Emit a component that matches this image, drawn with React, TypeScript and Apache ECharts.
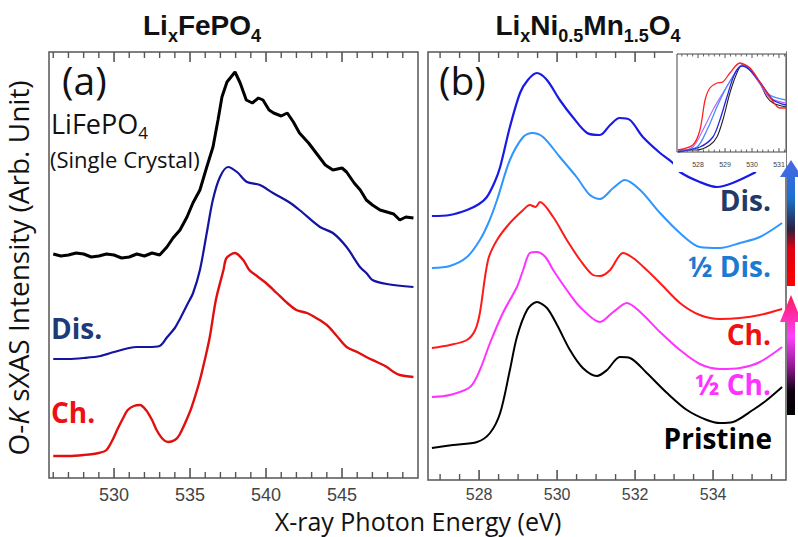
import React, { useEffect, useRef } from "react";
import * as echarts from "echarts";

// ---------- Panel (a): LixFePO4, O-K sXAS (energy eV, intensity arb.) ----------
const lfpSingleCrystal: [number, number][] = [
  [526.0, 224], [526.5, 222], [527.0, 223], [527.5, 225], [528.0, 224], [528.5, 221], [529.0, 222],
  [529.5, 224], [530.0, 223], [530.5, 220], [531.0, 221], [531.5, 224], [532.0, 222], [532.5, 225],
  [533.0, 223], [533.48, 231], [533.88, 240], [534.34, 248], [534.8, 261], [535.19, 275], [535.65, 288],
  [536.1, 311], [536.51, 331], [536.84, 358], [537.1, 381], [537.43, 396], [537.96, 406], [538.3, 395],
  [538.7, 378], [539.1, 375], [539.5, 380], [539.8, 378], [540.2, 368], [540.5, 365], [541.0, 362],
  [541.4, 365], [541.8, 356], [542.2, 345], [542.8, 335], [543.3, 325], [543.9, 313], [544.4, 308],
  [545.0, 310], [545.3, 306], [545.8, 295], [546.2, 288], [546.6, 278], [547.0, 273], [547.5, 268],
  [547.95, 266], [548.4, 264], [548.8, 258], [549.2, 261], [549.7, 260]
];
const lfpDischarged: [number, number][] = [
  [526.0, 119], [527.0, 119], [528.0, 120], [529.1, 122], [530.0, 126], [531.0, 130], [531.5, 131],
  [532.2, 131], [533.0, 132], [533.5, 141], [534.0, 150], [534.3, 158], [534.8, 173], [535.2, 185],
  [535.65, 208], [536.1, 245], [536.5, 278], [536.97, 301], [537.5, 311], [538.09, 306], [538.75, 296],
  [539.6, 293], [540.46, 285], [541.5, 276], [542.2, 268], [543.55, 251], [544.4, 245], [545.3, 231],
  [546.18, 211], [546.6, 205], [547.0, 198], [547.95, 194], [549.7, 191]
];
const lfpCharged: [number, number][] = [
  [526.0, 22], [527.0, 22], [528.0, 23], [529.0, 25], [529.5, 28], [529.9, 38], [530.2, 48],
  [530.6, 60], [530.9, 68], [531.3, 72], [531.7, 73], [532.1, 68], [532.5, 58], [532.8, 48],
  [533.2, 39], [533.55, 36], [534.0, 38], [534.3, 43], [534.96, 65], [535.3, 80], [535.65, 98],
  [536.0, 120], [536.3, 141], [536.7, 178], [537.2, 208], [537.4, 220], [537.95, 225], [538.5, 218],
  [538.9, 208], [539.4, 202], [540.0, 195], [540.7, 185], [541.4, 175], [542.0, 168], [542.7, 165],
  [543.3, 160], [544.0, 153], [544.6, 143], [545.3, 131], [546.0, 126], [546.6, 121], [547.3, 116],
  [547.95, 111], [548.4, 106], [548.8, 103], [549.7, 101]
];

// ---------- Panel (b): LixNi0.5Mn1.5O4 ----------
const lnmoDis: [number, number][] = [
  [526.79, 264], [527.25, 265], [527.69, 270], [528.0, 276], [528.2, 283], [528.4, 298], [528.54, 313],
  [528.79, 353], [529.05, 387], [529.25, 400], [529.48, 407], [529.74, 400], [530.07, 380], [530.4, 363],
  [530.77, 347], [531.1, 345], [531.36, 355], [531.6, 362], [531.87, 360], [532.2, 343], [532.64, 327],
  [532.97, 317], [533.15, 308], [533.66, 298], [534.1, 293], [534.5, 297], [535.1, 308]
];
const lnmoHalfDis: [number, number][] = [
  [526.79, 212], [527.25, 214], [527.69, 223], [528.02, 240], [528.25, 258], [528.46, 280], [528.79, 320],
  [529.13, 343], [529.36, 347], [529.64, 343], [530.07, 323], [530.5, 303], [530.84, 285], [531.1, 281],
  [531.44, 292], [531.74, 300], [532.13, 290], [532.64, 267], [533.15, 247], [533.66, 233], [534.18, 232],
  [534.69, 237], [535.2, 243], [535.77, 257]
];
const lnmoCh: [number, number][] = [
  [526.79, 132], [527.25, 135], [527.69, 140], [527.9, 150], [528.02, 167], [528.23, 220], [528.46, 240],
  [528.79, 257], [529.13, 270], [529.3, 275], [529.45, 273], [529.56, 278], [529.9, 263], [530.25, 240],
  [530.59, 220], [530.92, 205], [531.1, 204], [531.36, 210], [531.69, 227], [531.95, 222], [532.3, 210],
  [532.64, 197], [533.15, 177], [533.66, 165], [534.18, 161], [534.69, 162], [535.2, 165], [535.77, 171]
];
const lnmoHalfCh: [number, number][] = [
  [526.79, 83], [527.25, 85], [527.77, 93], [528.02, 110], [528.28, 137], [528.61, 167], [528.97, 193],
  [529.13, 210], [529.3, 227], [529.48, 228], [529.7, 223], [529.9, 210], [530.25, 190], [530.59, 173],
  [531.1, 158], [531.44, 168], [531.79, 177], [532.13, 168], [532.64, 148], [533.15, 130], [533.66, 116],
  [534.18, 111], [534.69, 112], [535.2, 118], [535.77, 133]
];
const lnmoPristine: [number, number][] = [
  [526.79, 32], [527.33, 35], [527.95, 38], [528.28, 47], [528.54, 67], [528.79, 110], [528.97, 143],
  [529.23, 170], [529.48, 178], [529.74, 172], [530.0, 155], [530.33, 130], [530.66, 112], [531.02, 104],
  [531.28, 110], [531.61, 123], [531.87, 122], [532.3, 107], [532.82, 87], [533.33, 70], [533.84, 60],
  [534.18, 57], [534.51, 58], [535.02, 70], [535.38, 80], [535.77, 93]
];

// ---------- Inset (pre-edge comparison) ----------
const insetPristine: [number, number][] = [
  [527.26, 2], [527.96, 2], [528.44, 7], [528.7, 15], [528.92, 32], [529.18, 59], [529.44, 79],
  [529.63, 87], [529.92, 82], [530.29, 69], [530.55, 55], [530.78, 49], [531.26, 45]
];
const insetCh: [number, number][] = [
  [527.26, 2], [527.81, 7], [528.07, 22], [528.26, 52], [528.44, 64], [528.7, 69], [528.92, 70],
  [529.18, 79], [529.55, 89], [529.92, 84], [530.29, 70], [530.66, 55], [531.03, 44], [531.26, 44]
];
const insetHalfCh: [number, number][] = [
  [527.26, 0], [527.81, 5], [528.18, 22], [528.55, 42], [528.92, 59], [529.29, 75], [529.63, 87],
  [529.92, 82], [530.29, 68], [530.66, 54], [531.26, 49]
];
const insetHalfDis: [number, number][] = [
  [527.26, 2], [527.96, 5], [528.33, 22], [528.7, 45], [529.0, 62], [529.37, 79], [529.63, 87],
  [529.92, 84], [530.29, 70], [530.66, 57], [531.26, 52]
];
const insetDis: [number, number][] = [
  [527.26, 0], [528.07, 5], [528.55, 15], [528.81, 32], [529.07, 55], [529.37, 79], [529.63, 86],
  [529.92, 82], [530.37, 67], [530.78, 52], [531.26, 47]
];

// ---------- Axis ranges, labelled ticks and minor ticks ----------
const rangeA: [number, number] = [525.72, 550];
const majorA = [530, 535, 540, 545];
const minorA = [526, 527, 528, 529, 531, 532, 533, 534, 536, 537, 538, 539, 541, 542, 543, 544, 546, 547, 548, 549];
const rangeB: [number, number] = [526.69, 535.87];
const majorB = [528, 530, 532, 534];
const minorB = [527, 527.5, 528.5, 529, 529.5, 530.5, 531, 531.5, 532.5, 533, 533.5, 534.5, 535, 535.5];
const rangeI: [number, number] = [527.22, 531.26];
const majorI = [528, 529, 530, 531];
const minorI = [527.4, 527.6, 527.8, 528.2, 528.4, 528.6, 528.8, 529.2, 529.4, 529.6, 529.8, 530.2, 530.4, 530.6, 530.8, 531.2];

const AX = "#555";
const SANS = "'Open Sans', 'Noto Sans', sans-serif";
const ARIAL = "'Liberation Sans', Arial, sans-serif";

const boxA = { left: 49, top: 52, width: 369, height: 426 };
const boxB = { left: 428, top: 52, width: 358, height: 428 };
const boxI = { left: 677, top: 54, width: 109, height: 98 };

function line(name: string, data: [number, number][], color: string, width: number, xi: number, yi: number, smooth: number | boolean, z = 2) {
  return {
    name, type: "line", data, xAxisIndex: xi, yAxisIndex: yi, showSymbol: false, symbol: "none",
    smooth, z, lineStyle: { color, width }, itemStyle: { color },
  };
}

function xAxis(gridIndex: number, range: [number, number], labels: number[], size: number, margin: number, z: number) {
  return {
    type: "value", gridIndex, min: range[0], max: range[1], z,
    splitLine: { show: false },
    axisLine: { show: false, onZero: false },
    axisTick: { show: false },
    axisLabel: { show: true, customValues: labels, fontSize: size, color: "#444", margin, fontFamily: ARIAL },
  };
}

function label(text: string, x: number, y: number, color: string, size: number, align = "left", weight = "bold") {
  return {
    type: "text", x, y, z: 20,
    style: { text, fill: color, fontSize: size, fontWeight: weight, fontFamily: SANS, align, verticalAlign: "middle", lineHeight: size },
  };
}

export default function App() {
  const ref = useRef<HTMLDivElement>(null);
  useEffect(() => {
    if (!ref.current) return;
    const chart = echarts.init(ref.current, null, { renderer: "svg" });
    const subTitle = (parts: [string, boolean][], x: number) => {
      const text = parts.map(([t, sub]) => `{${sub ? "s" : "m"}|${t}}`).join("");
      return {
        type: "text", x, y: 27, z: 20,
        style: {
          text, align: "center", verticalAlign: "middle",
          rich: {
            m: { fontSize: 28, fontWeight: "bold", fontFamily: ARIAL, fill: "#111", verticalAlign: "top", lineHeight: 32 },
            s: { fontSize: 18, fontWeight: "bold", fontFamily: ARIAL, fill: "#111", verticalAlign: "top", lineHeight: 18, padding: [16, 0, 0, 0] },
          },
        },
      };
    };
    const graphics: any[] = [
      { type: "rect", z: 5, shape: { x: 673, y: 50, width: 113, height: 122 }, style: { fill: "#fff" } },
      subTitle([["Li", false], ["x", true], ["FePO", false], ["4", true]], 202),
      subTitle([["Li", false], ["x", true], ["Ni", false], ["0.5", true], ["Mn", false], ["1.5", true], ["O", false], ["4", true]], 588),
      {
        type: "text", x: 18, y: 268, rotation: Math.PI / 2, z: 20,
        style: {
          text: "{n|O-}{i|K}{n| sXAS Intensity (Arb. Unit)}", align: "center", verticalAlign: "middle",
          rich: {
            n: { fontSize: 28, fontFamily: SANS, fill: "#111", lineHeight: 30 },
            i: { fontSize: 28, fontFamily: SANS, fontStyle: "italic", fill: "#111", lineHeight: 30 },
          },
        },
      },
      label("X-ray Photon Energy (eV)", 418, 521, "#111", 25, "center", "normal"),
      label("(a)", 62, 79, "#111", 39, "left", "normal"),
      label("(b)", 439, 79, "#111", 39, "left", "normal"),
      {
        type: "text", x: 51, y: 126, z: 20,
        style: {
          text: "{m|LiFePO}{s|4}", verticalAlign: "middle",
          rich: {
            m: { fontSize: 27, fontFamily: SANS, fill: "#111", verticalAlign: "top", lineHeight: 32 },
            s: { fontSize: 17, fontFamily: SANS, fill: "#111", verticalAlign: "top", lineHeight: 18, padding: [14, 0, 0, 0] },
          },
        },
      },
      label("(Single Crystal)", 50, 159, "#111", 22, "left", "normal"),
      label("Dis.", 51, 328, "#1f3a78", 28),
      label("Ch.", 51, 412, "#ee1111", 28),
      label("Dis.", 771, 200, "#223a66", 28, "right"),
      label("½ Dis.", 771, 266, "#1c7bd0", 28, "right"),
      label("Ch.", 771, 334, "#ee1111", 28, "right"),
      label("½ Ch.", 771, 384, "#ff33ff", 28, "right"),
      label("Pristine", 772, 438, "#000", 28, "right"),
      {
        type: "polygon", z: 20,
        shape: { points: [[787, 286], [787, 177], [780, 177], [791, 160], [802, 177], [795, 177], [795, 286]] },
        style: {
          fill: new echarts.graphic.LinearGradient(0, 0, 0, 1, [
            { offset: 0, color: "#4a68e8" },
            { offset: 0.3, color: "#1c72d2" },
            { offset: 0.55, color: "#2a2040" },
            { offset: 0.7, color: "#e00010" },
            { offset: 1, color: "#ff0000" },
          ]),
        },
      },
      {
        type: "polygon", z: 20,
        shape: { points: [[787, 415], [787, 322], [780, 322], [791, 295], [802, 322], [795, 322], [795, 415]] },
        style: {
          fill: new echarts.graphic.LinearGradient(0, 0, 0, 1, [
            { offset: 0, color: "#ff1a5a" },
            { offset: 0.35, color: "#ff40ff" },
            { offset: 0.6, color: "#901890" },
            { offset: 0.8, color: "#100010" },
            { offset: 1, color: "#000" },
          ]),
        },
      },
    ];
    const option: any = {
      animation: false,
      backgroundColor: "#fff",
      grid: [
        { ...boxA, show: true, borderColor: AX, borderWidth: 1.5, backgroundColor: "transparent" },
        { ...boxB, show: true, borderColor: AX, borderWidth: 1.5, backgroundColor: "transparent" },
        { ...boxI, show: true, borderColor: "#444", borderWidth: 1, backgroundColor: "transparent", z: 10 },
      ],
      xAxis: [
        xAxis(0, rangeA, majorA, 18, 8, 0),
        xAxis(1, rangeB, majorB, 16, 6, 0),
        xAxis(2, rangeI, majorI, 7, 9, 12),
      ],
      yAxis: [
        { type: "value", gridIndex: 0, min: 0, max: 426, show: false },
        { type: "value", gridIndex: 1, min: 0, max: 428, show: false },
        { type: "value", gridIndex: 2, min: 0, max: 98, show: false },
      ],
      series: [
        line("LiFePO4 (Single Crystal)", lfpSingleCrystal, "#000", 3, 0, 0, false),
        line("Dis.", lfpDischarged, "#1414a0", 2.2, 0, 0, 0.3),
        line("Ch.", lfpCharged, "#e01010", 2.4, 0, 0, 0.3),
        line("Dis.", lnmoDis, "#1a1ae6", 2.2, 1, 1, 0.3),
        line("½ Dis.", lnmoHalfDis, "#2e96ff", 2, 1, 1, 0.3),
        line("Ch.", lnmoCh, "#ff1a1a", 2, 1, 1, 0.3),
        line("½ Ch.", lnmoHalfCh, "#ff33ff", 2, 1, 1, 0.3),
        line("Pristine", lnmoPristine, "#000", 2, 1, 1, 0.3),
        line("Pristine", insetPristine, "#222", 1.1, 2, 2, 0.3, 12),
        line("½ Ch.", insetHalfCh, "#b060ff", 1.1, 2, 2, 0.3, 12),
        line("½ Dis.", insetHalfDis, "#4a8cff", 1.3, 2, 2, 0.3, 12),
        line("Dis.", insetDis, "#2424e0", 1.3, 2, 2, 0.3, 12),
        line("Ch.", insetCh, "#ff2020", 1.3, 2, 2, 0.3, 12),
      ],
      graphic: graphics,
    };
    chart.setOption(option);

    // inward tick marks on bottom and top edges, positioned through each x axis scale
    const tickSpecs = [
      { values: majorA, axis: 0, box: boxA, range: rangeA, len: 10, lw: 1.6, inset: false },
      { values: minorA, axis: 0, box: boxA, range: rangeA, len: 6, lw: 1.4, inset: false },
      { values: majorB, axis: 1, box: boxB, range: rangeB, len: 10, lw: 1.6, inset: false },
      { values: minorB, axis: 1, box: boxB, range: rangeB, len: 6, lw: 1.4, inset: false },
      { values: majorI, axis: 2, box: boxI, range: rangeI, len: 4, lw: 1, inset: true },
      { values: minorI, axis: 2, box: boxI, range: rangeI, len: 2.5, lw: 0.9, inset: true },
    ];
    const tickEls: any[] = [];
    tickSpecs.forEach((s) => {
      s.values.forEach((v) => {
        let px: any;
        try { px = chart.convertToPixel({ xAxisIndex: s.axis } as any, v); } catch (e) { px = undefined; }
        if (Array.isArray(px)) px = px[0];
        if (typeof px !== "number" || !isFinite(px)) {
          px = s.box.left + ((v - s.range[0]) / (s.range[1] - s.range[0])) * s.box.width;
        }
        const bottom = s.box.top + s.box.height;
        tickEls.push({ type: "rect", z: 30, silent: true, shape: { x: px - s.lw / 2, y: bottom - s.len, width: s.lw, height: s.len }, style: { fill: AX } });
        const hiddenByInset = s.axis === 1 && px > 672;
        if (!hiddenByInset) {
          tickEls.push({ type: "rect", z: 30, silent: true, shape: { x: px - s.lw / 2, y: s.box.top, width: s.lw, height: s.len }, style: { fill: AX } });
        }
      });
    });
    chart.setOption({ ...option, graphic: [...graphics, ...tickEls] }, true);
    return () => chart.dispose();
  }, []);
  return <div ref={ref} style={{ position: "fixed", left: 0, top: 0, width: 798, height: 537, background: "#fff" }} />;
}
